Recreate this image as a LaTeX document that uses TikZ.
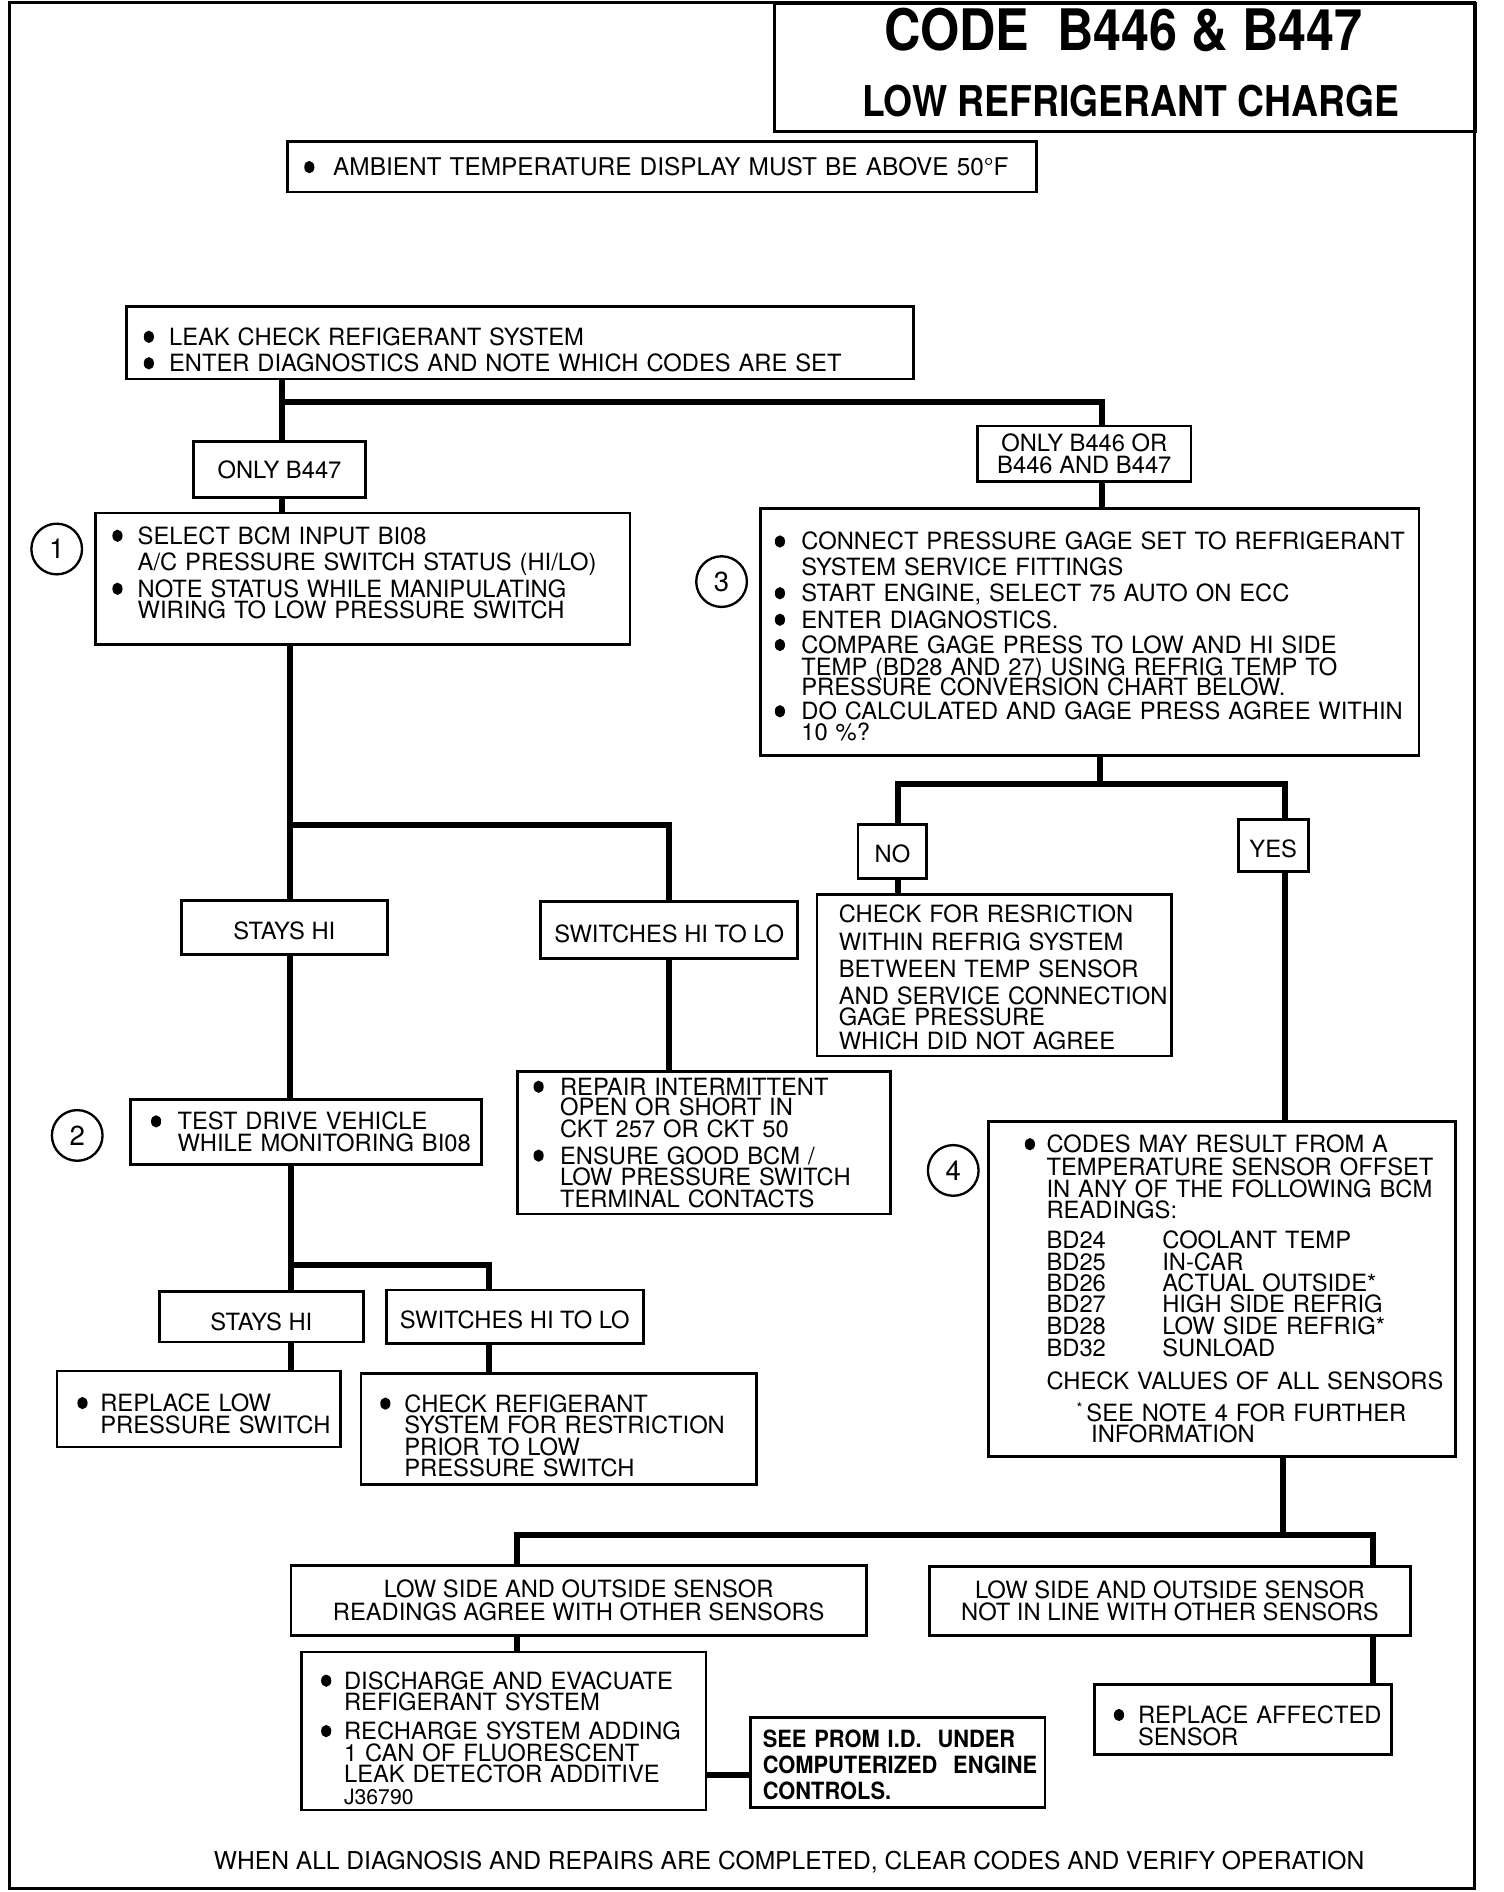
\documentclass[tikz,border=0pt]{standalone}
\usepackage{fontspec}
\setmainfont{TeX Gyre Heros}
\newfontfamily\titlefont[FakeStretch=0.88]{TeX Gyre Heros}
\newfontfamily\promfont[FakeStretch=0.92]{TeX Gyre Heros}
\usepackage{tikz}
\tikzstyle{box} = [draw, line width=1.3pt, anchor=north west, align=left, inner ysep=0pt]
\tikzstyle{cbox} = [draw, line width=1.3pt, anchor=north west, align=center, inner sep=0pt]
\tikzstyle{conn} = [line width=2.8pt]
\tikzstyle{num} = [draw, circle, line width=1.1pt, minimum size=0.84cm, inner sep=0pt, font=\fontsize{13}{13}\selectfont]
\newcommand{\bulletmark}{\tikz[baseline=0pt]\fill (2.4pt,4pt) ellipse (2.4pt and 2.9pt);}
\newcommand{\bul}[2][0.42cm]{\mbox{\makebox[#1][l]{\bulletmark}#2}}
\newcommand{\indt}[2][0.42cm]{\mbox{\hspace*{#1}#2}}
\newcommand{\bcode}[1]{\makebox[1.92cm][l]{#1}}

\begin{document}
\begin{tikzpicture}[x=0.02cm, y=-0.02cm, font=\fontsize{11.2}{12.5}\selectfont]
	\useasboundingbox (0,0) rectangle (1246,1568);
	\draw[line width=1.4pt] (8,2) rectangle (1222,1565);

	% title
	\node[draw, line width=1.3pt, anchor=north west, minimum width=11.62cm, minimum height=2.12cm] (title) at (641,2) {};
	\node[font=\titlefont\bfseries\fontsize{27}{30}\selectfont] (code) at (931,25) {CODE\ \ B446 \& B447};
	\node[font=\titlefont\bfseries\fontsize{20}{22}\selectfont] (charge) at (937,84) {LOW REFRIGERANT CHARGE};

	\node[box, minimum width=12.42cm, minimum height=0.84cm, text width=11.86cm, inner xsep=0.28cm, font=\fontsize{11.5}{12.5}\selectfont] (ambient) at (237,116)
		{\bul[0.48cm]{AMBIENT TEMPERATURE DISPLAY MUST BE ABOVE 50°F}};

	\node[box, minimum width=13.04cm, minimum height=1.2cm, text width=12.48cm, inner xsep=0.28cm] (leak) at (104,253)
		{\rule{0pt}{15pt}\bul{LEAK CHECK REFIGERANT SYSTEM}\\
		 \bul{ENTER DIAGNOSTICS AND NOTE WHICH CODES ARE SET}};

	\node[cbox, minimum width=2.86cm, minimum height=0.92cm] (only447) at (159,365) {ONLY B447};
	\node[cbox, minimum width=3.54cm, minimum height=0.92cm, font=\fontsize{11.2}{10.2}\selectfont] (only446) at (809,352) {ONLY B446 OR\\B446 AND B447};

	% left branch
	\node[num] (n1) at (47,455) {1};
	\node[box, minimum width=8.86cm, minimum height=2.18cm, text width=8.3cm, inner xsep=0.28cm] (select) at (78,424)
		{\bul{SELECT BCM INPUT BI08}\\
		 \indt{A/C PRESSURE SWITCH STATUS (HI/LO)}\\
		 \bul{NOTE STATUS WHILE MANIPULATING}\\[-2.3pt]
		 \indt{WIRING TO LOW PRESSURE SWITCH}\rule[-5.7pt]{0pt}{0pt}};

	\node[cbox, minimum width=3.42cm, minimum height=0.9cm] (stays1) at (149,745) {\rule{0pt}{11.7pt}STAYS HI};
	\node[cbox, minimum width=4.26cm, minimum height=0.94cm] (switch1) at (447,746) {\rule{0pt}{11.7pt}SWITCHES HI TO LO};

	\node[num] (n2) at (64,941) {2};
	\node[box, minimum width=5.82cm, minimum height=1.08cm, text width=5.14cm, inner xsep=0.34cm] (drive) at (107,910)
		{\bul[0.44cm]{TEST DRIVE VEHICLE}\\[-2.3pt]
		 \indt[0.44cm]{WHILE MONITORING BI08}};

	\node[box, minimum width=6.18cm, minimum height=2.36cm, text width=5.66cm, inner xsep=0.26cm] (repair) at (428,887)
		{\bul[0.44cm]{REPAIR INTERMITTENT}\\[-2.7pt]
		 \indt[0.44cm]{OPEN OR SHORT IN}\\[-2.3pt]
		 \indt[0.44cm]{CKT 257 OR CKT 50}\\
		 \bul[0.44cm]{ENSURE GOOD BCM /}\\[-2.3pt]
		 \indt[0.44cm]{LOW PRESSURE SWITCH}\\[-2.3pt]
		 \indt[0.44cm]{TERMINAL CONTACTS}};

	\node[cbox, minimum width=3.38cm, minimum height=0.84cm] (stays2) at (131,1069) {\rule{0pt}{12.9pt}STAYS HI};
	\node[cbox, minimum width=4.26cm, minimum height=0.88cm] (switch2) at (319,1068) {\rule{0pt}{11.7pt}SWITCHES HI TO LO};

	\node[box, minimum width=4.7cm, minimum height=1.26cm, text width=4.02cm, inner xsep=0.34cm] (replow) at (46,1135)
		{\rule{0pt}{12.9pt}\bul[0.38cm]{REPLACE LOW}\\[-2.3pt]
		 \indt[0.38cm]{PRESSURE SWITCH}};
	\node[box, minimum width=6.56cm, minimum height=1.84cm, text width=5.92cm, inner xsep=0.32cm] (checkref) at (298,1137)
		{\rule{0pt}{15pt}\bul[0.4cm]{CHECK REFIGERANT}\\[-2.3pt]
		 \indt[0.4cm]{SYSTEM FOR RESTRICTION}\\[-2.3pt]
		 \indt[0.4cm]{PRIOR TO LOW}\\[-2.3pt]
		 \indt[0.4cm]{PRESSURE SWITCH}};

	% right branch
	\node[num] (n3) at (598,482) {3};
	\node[box, minimum width=10.92cm, minimum height=4.1cm, text width=10.44cm, inner xsep=0.24cm] (gage) at (629,420)
		{\rule{0pt}{12.9pt}\bul[0.44cm]{CONNECT PRESSURE GAGE SET TO REFRIGERANT}\\[-0.6pt]
		 \indt[0.44cm]{SYSTEM SERVICE FITTINGS}\\
		 \bul[0.44cm]{START ENGINE, SELECT 75 AUTO ON ECC}\\
		 \bul[0.44cm]{ENTER DIAGNOSTICS.}\\[-0.6pt]
		 \bul[0.44cm]{COMPARE GAGE PRESS TO LOW AND HI SIDE}\\[-2.3pt]
		 \indt[0.44cm]{TEMP (BD28 AND 27) USING REFRIG TEMP TO}\\[-2.7pt]
		 \indt[0.44cm]{PRESSURE CONVERSION CHART BELOW.}\\[-1.2pt]
		 \bul[0.44cm]{DO CALCULATED AND GAGE PRESS AGREE WITHIN}\\[-2.7pt]
		 \indt[0.44cm]{10 \%?}};

	\node[cbox, minimum width=1.14cm, minimum height=0.9cm] (no) at (710,682) {\rule{0pt}{10.5pt}NO};
	\node[cbox, minimum width=1.16cm, minimum height=0.86cm] (yes) at (1025,678) {\rule{0pt}{11.7pt}YES};

	\node[box, minimum width=5.88cm, minimum height=2.68cm, text width=5.16cm, inner xsep=0.36cm] (restrict) at (676,740)
		{\rule{0pt}{10.5pt}\indt[0pt]{CHECK FOR RESRICTION}\\[0.5pt]
		 \indt[0pt]{WITHIN REFRIG SYSTEM}\\[0.5pt]
		 \indt[0pt]{BETWEEN TEMP SENSOR}\\
		 \indt[0pt]{AND SERVICE CONNECTION}\\[-2.3pt]
		 \indt[0pt]{GAGE PRESSURE}\\[-1.2pt]
		 \indt[0pt]{WHICH DID NOT AGREE}};

	\node[num] (n4) at (790,970) {4};
	\node[box, line width=1.5pt, minimum width=7.74cm, minimum height=5.56cm, text width=6.54cm, inner xsep=0.6cm] (offset) at (818,928)
		{\bul[0.36cm]{CODES MAY RESULT FROM A}\\[-1.7pt]
		 \indt[0.36cm]{TEMPERATURE SENSOR OFFSET}\\[-2.3pt]
		 \indt[0.36cm]{IN ANY OF THE FOLLOWING BCM}\\[-2.3pt]
		 \indt[0.36cm]{READINGS:}\\[1.7pt]
		 \indt[0.36cm]{\bcode{BD24}COOLANT TEMP}\\[-2.3pt]
		 \indt[0.36cm]{\bcode{BD25}IN-CAR}\\[-2.7pt]
		 \indt[0.36cm]{\bcode{BD26}ACTUAL OUTSIDE*}\\[-2.3pt]
		 \indt[0.36cm]{\bcode{BD27}HIGH SIDE REFRIG}\\[-2.3pt]
		 \indt[0.36cm]{\bcode{BD28}LOW SIDE REFRIG*}\\[-2.3pt]
		 \indt[0.36cm]{\bcode{BD32}SUNLOAD}\\[3.4pt]
		 \indt[0.36cm]{CHECK VALUES OF ALL SENSORS}\\[2.2pt]
		 \indt[0.86cm]{\raisebox{0.6ex}{\scriptsize*}\,SEE NOTE 4 FOR FURTHER}\\[-2.3pt]
		 \indt[1.1cm]{INFORMATION}};

	\node[cbox, minimum width=9.54cm, minimum height=1.16cm, font=\fontsize{11.2}{10.8}\selectfont] (agree) at (240,1296)
		{LOW SIDE AND OUTSIDE SENSOR\\READINGS AGREE WITH OTHER SENSORS};
	\node[cbox, minimum width=7.98cm, minimum height=1.14cm, font=\fontsize{11.2}{10.2}\selectfont] (notline) at (769,1297)
		{LOW SIDE AND OUTSIDE SENSOR\\NOT IN LINE WITH OTHER SENSORS};

	\node[box, minimum width=6.7cm, minimum height=2.62cm, text width=6.06cm, inner xsep=0.32cm] (discharge) at (249,1368)
		{\rule{0pt}{15pt}\bul[0.38cm]{DISCHARGE AND EVACUATE}\\[-2.3pt]
		 \indt[0.38cm]{REFIGERANT SYSTEM}\\[1.1pt]
		 \bul[0.38cm]{RECHARGE SYSTEM ADDING}\\[-2.3pt]
		 \indt[0.38cm]{1 CAN OF FLUORESCENT}\\[-2.3pt]
		 \indt[0.38cm]{LEAK DETECTOR ADDITIVE}\\[-2.3pt]
		 \indt[0.38cm]{\fontsize{10}{10}\selectfont J36790}};
	\node[box, minimum width=4.88cm, minimum height=1.5cm, text width=4.48cm, inner xsep=0.2cm, font=\promfont\bfseries\fontsize{11.2}{12.5}\selectfont] (prom) at (621,1422)
		{\rule{0pt}{10.7pt}\indt[0pt]{SEE PROM I.D.\ \ UNDER}\\[-0.6pt]
		 \indt[0pt]{COMPUTERIZED\ \ ENGINE}\\
		 \indt[0pt]{CONTROLS.}};

	\node[box, minimum width=4.92cm, minimum height=1.16cm, text width=4.28cm, inner xsep=0.32cm] (replace) at (906,1395)
		{\rule{0pt}{14pt}\bul[0.4cm]{REPLACE AFFECTED}\\[-2.3pt]
		 \indt[0.4cm]{SENSOR}};

	\node[font=\fontsize{11.6}{12.5}\selectfont] (footer) at (654,1543) {WHEN ALL DIAGNOSIS AND REPAIRS ARE COMPLETED, CLEAR CODES AND VERIFY OPERATION};

	% connectors
	\coordinate (j1) at (234,333);
	\coordinate (j2) at (240,684);
	\coordinate (j3) at (241,1048);
	\coordinate (j4) at (912,650);
	\coordinate (j5) at (1063,1272);

	\draw[conn] (leak.south -| j1) -- (only447.north -| j1);
	\draw[conn] (j1) -| ([xshift=0.29cm]only446.north);
	\draw[conn] (only447.south -| j1) -- (select.north -| j1);
	\draw[conn] ([xshift=0.29cm]only446.south) -- ([xshift=0.29cm]only446.south |- gage.north);

	\draw[conn] (select.south -| j2) -- (stays1.north -| j2);
	\draw[conn] (j2) -| (switch1.north);
	\draw[conn] (stays1.south -| j2) -- (drive.north -| j2);
	\draw[conn] (switch1.south) -- (switch1.south |- repair.north);

	\draw[conn] (drive.south -| j3) -- (stays2.north -| j3);
	\draw[conn] (j3) -| ([xshift=-0.43cm]switch2.north);
	\draw[conn] (stays2.south -| j3) -- (replow.north -| j3);
	\draw[conn] ([xshift=-0.43cm]switch2.south) -- ([xshift=-0.43cm]switch2.south |- checkref.north);

	\draw[conn] (gage.south -| j4) -- (j4);
	\draw[conn] ([xshift=0.09cm]no.north) |- (j4) -| ([xshift=0.2cm]yes.north);
	\draw[conn] ([xshift=0.09cm]no.south) -- ([xshift=0.09cm]no.south |- restrict.north);
	\draw[conn] ([xshift=0.2cm]yes.south) -- ([xshift=0.2cm]yes.south |- offset.north);

	\draw[conn] (offset.south -| j5) -- (j5);
	\draw[conn] ([xshift=-1.03cm]agree.north) |- (j5) -| ([xshift=3.37cm]notline.north);
	\draw[conn] ([xshift=-1.03cm]agree.south) -- ([xshift=-1.03cm]agree.south |- discharge.north);
	\draw[conn] ([xshift=3.37cm]notline.south) -- ([xshift=3.37cm]notline.south |- replace.north);
	\draw[conn] ([yshift=-0.21cm]prom.west) -- ([yshift=-0.21cm]prom.west -| discharge.east);
\end{tikzpicture}
\end{document}
